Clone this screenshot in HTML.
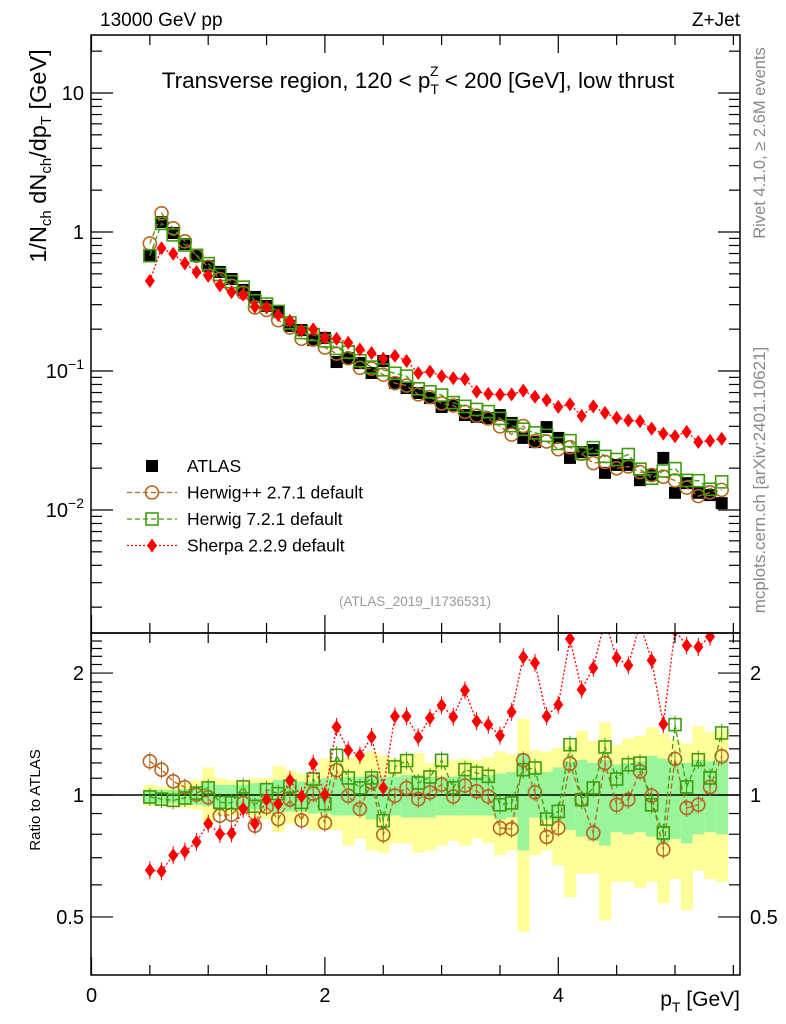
<!DOCTYPE html>
<html><head><meta charset="utf-8"><style>
html,body{margin:0;padding:0;background:#fff;}
svg{display:block;font-family:"Liberation Sans",Arial,sans-serif;}
</style></head><body>
<svg id="chart" width="786" height="1024" viewBox="0 0 786 1024" xmlns="http://www.w3.org/2000/svg">
<defs>
<clipPath id="clipMain"><rect x="91" y="35" width="649" height="598"/></clipPath>
<clipPath id="clipRatio"><rect x="91" y="633" width="649" height="342"/></clipPath>
</defs>
<g id="bands" clip-path="url(#clipRatio)"></g>
<g id="ratioMarks" clip-path="url(#clipRatio)"></g>
<g id="mainMarks" clip-path="url(#clipMain)"></g>
<g id="axes"></g>
<text x="100" y="26" font-size="19">13000 GeV pp</text>
<text x="740" y="26" font-size="19" text-anchor="end">Z+Jet</text>
<text x="418" y="88" font-size="22.5" text-anchor="middle">Transverse region, 120 &lt; p<tspan font-size="14" dy="6">T</tspan><tspan font-size="14" dx="-9" dy="-18">Z</tspan><tspan dy="12"> &lt; 200 [GeV], low thrust</tspan></text>
<text transform="translate(46,156) rotate(-90)" font-size="23.5" text-anchor="middle">1/N<tspan font-size="15" dy="5">ch</tspan><tspan dy="-5"> dN</tspan><tspan font-size="15" dy="5">ch</tspan><tspan dy="-5">/dp</tspan><tspan font-size="15" dy="5">T</tspan><tspan dy="-5"> [GeV]</tspan></text>
<text transform="translate(40,800) rotate(-90)" font-size="15" text-anchor="middle">Ratio to ATLAS</text>
<text transform="translate(765,143) rotate(-90)" font-size="16.5" fill="#888" text-anchor="middle">Rivet 4.1.0, ≥ 2.6M events</text>
<text transform="translate(765,480) rotate(-90)" font-size="17" fill="#888" text-anchor="middle">mcplots.cern.ch [arXiv:2401.10621]</text>
<text x="415" y="606" font-size="13.5" fill="#999" text-anchor="middle">(ATLAS_2019_I1736531)</text>
<text x="740" y="1006" font-size="21" text-anchor="end">p<tspan font-size="14" dy="6">T</tspan><tspan dy="-6"> [GeV]</tspan></text>
<g id="legend"></g>
</svg>
<script>
const xs=[0.5,0.6,0.7,0.8,0.9,1.0,1.1,1.2,1.3,1.4,1.5,1.6,1.7,1.8,1.9,2.0,2.1,2.2,2.3,2.4,2.5,2.6,2.7,2.8,2.9,3.0,3.1,3.2,3.3,3.4,3.5,3.6,3.7,3.8,3.9,4.0,4.1,4.2,4.3,4.4,4.5,4.6,4.7,4.8,4.9,5.0,5.1,5.2,5.3,5.4];
const atlas=[0.683,1.18,0.983,0.820,0.672,0.569,0.516,0.459,0.383,0.341,0.294,0.266,0.211,0.197,0.167,0.173,0.116,0.124,0.114,0.0968,0.118,0.0821,0.0755,0.0695,0.0639,0.0551,0.0569,0.0482,0.0467,0.0459,0.0482,0.0423,0.0330,0.0308,0.0395,0.0330,0.0237,0.0261,0.0270,0.0185,0.0211,0.0211,0.0164,0.0179,0.0237,0.0133,0.0156,0.0133,0.0128,0.0112];
const ratioHpp=[1.211,1.155,1.081,1.045,1.002,0.987,0.889,0.894,0.956,0.840,0.934,0.872,0.974,0.866,1.008,0.853,1.151,0.996,0.924,1.075,0.798,0.996,1.041,0.977,1.015,1.061,0.992,1.055,1.021,0.992,0.829,0.824,1.218,1.015,0.788,0.829,1.195,0.974,0.806,1.199,0.946,0.974,1.144,0.996,0.733,1.227,0.929,0.946,1.047,1.246];
const ratioH7=[0.989,0.977,0.970,0.983,1.011,1.041,0.959,0.956,1.047,0.938,1.031,1.008,1.051,0.959,1.095,0.952,1.253,1.102,1.041,1.102,0.864,1.173,1.216,1.071,1.108,1.218,1.041,1.155,1.133,1.112,0.946,0.956,1.155,1.166,0.872,0.911,1.331,0.974,1.041,1.314,1.095,1.188,1.199,0.946,0.806,1.492,1.047,1.222,1.102,1.423];
const ratioSherpa=[0.652,0.648,0.710,0.725,0.766,0.850,0.801,0.804,0.925,0.850,0.974,0.950,1.087,0.992,1.195,1.002,1.472,1.289,1.253,1.391,1.041,1.564,1.564,1.388,1.549,1.665,1.559,1.813,1.521,1.492,1.402,1.604,2.19,2.12,1.564,1.671,2.43,1.821,2.06,2.7,2.18,2.09,2.65,2.15,1.496,2.55,2.34,2.32,2.46,2.9];
const bandYellowUp=[1.06,1.05,1.05,1.07,1.09,1.17,1.10,1.09,1.09,1.10,1.10,1.18,1.15,1.13,1.13,1.23,1.22,1.24,1.25,1.28,1.25,1.23,1.26,1.27,1.20,1.23,1.22,1.23,1.22,1.24,1.28,1.26,1.54,1.29,1.28,1.31,1.36,1.44,1.36,1.51,1.33,1.38,1.40,1.47,1.42,1.37,1.34,1.48,1.43,1.45];
const bandYellowDn=[0.94,0.94,0.94,0.93,0.92,0.86,0.89,0.89,0.90,0.88,0.87,0.81,0.85,0.85,0.82,0.82,0.82,0.75,0.78,0.73,0.72,0.76,0.76,0.72,0.73,0.75,0.77,0.75,0.78,0.76,0.71,0.73,0.46,0.71,0.73,0.67,0.56,0.64,0.64,0.49,0.61,0.61,0.59,0.61,0.54,0.62,0.52,0.65,0.62,0.61];
const bandGreenUp=[1.03,1.03,1.03,1.035,1.04,1.07,1.06,1.06,1.06,1.07,1.07,1.09,1.08,1.08,1.08,1.10,1.10,1.11,1.11,1.13,1.11,1.11,1.12,1.12,1.11,1.11,1.11,1.11,1.11,1.12,1.13,1.14,1.27,1.14,1.14,1.17,1.21,1.22,1.20,1.22,1.19,1.20,1.21,1.25,1.23,1.20,1.20,1.22,1.21,1.22];
const bandGreenDn=[0.95,0.955,0.955,0.95,0.945,0.94,0.93,0.93,0.93,0.92,0.92,0.90,0.91,0.91,0.90,0.90,0.89,0.89,0.89,0.87,0.88,0.89,0.88,0.88,0.88,0.89,0.89,0.89,0.89,0.89,0.87,0.88,0.73,0.88,0.87,0.86,0.82,0.79,0.77,0.75,0.81,0.80,0.81,0.79,0.76,0.78,0.76,0.80,0.81,0.80];
const xTicksMajor=[0,2,4];
const mainTickVals=[0.01,0.1,1,10];
const mainTickLabels=["10-2","10-1","1","10"];
const ratioTickVals=[0.5,1,2];
const ratioTickLabels=["0.5","1","2"];

const NS="http://www.w3.org/2000/svg";
const X0=91,X1=740,YT=35,YM=633,YB=975;
function px(x){return 91.5+x*116.7;}
function pyMain(v){return 232-139*Math.log10(v);}
function pyRatio(r){return 795-405*Math.log10(r);}
function mk(tag,attrs,parent){const e=document.createElementNS(NS,tag);for(const k in attrs)e.setAttribute(k,attrs[k]);parent.appendChild(e);return e;}
const axes=document.getElementById('axes');
const bands=document.getElementById('bands');
const rm=document.getElementById('ratioMarks');
const mm=document.getElementById('mainMarks');
const BROWN="#b5651d",GREEN="#3f9c0c",RED="#ff0000";

for(let i=0;i<xs.length;i++){
  const l=px(xs[i]-0.05),w=116.7*0.1+0.5;
  let r=mk('rect',{x:l,y:pyRatio(bandYellowUp[i]),width:w,height:pyRatio(bandYellowDn[i])-pyRatio(bandYellowUp[i]),fill:"#ffff99"},bands);
  
  
  let g=mk('rect',{x:l,y:pyRatio(bandGreenUp[i]),width:w,height:pyRatio(bandGreenDn[i])-pyRatio(bandGreenUp[i]),fill:"#99f599"},bands);
  
  
}
let ref=mk('line',{x1:X0,x2:X1,y1:pyRatio(1),y2:pyRatio(1),stroke:"#000","stroke-width":1.5},rm);



function marker(type,cx,cy,parent,name){
  let e;
  if(type==='sq') e=mk('rect',{x:cx-6,y:cy-6,width:12,height:12,fill:"#000"},parent);
  else if(type==='osq') e=mk('rect',{x:cx-6,y:cy-6,width:12,height:12,fill:"none",stroke:GREEN,"stroke-width":1.6},parent);
  else if(type==='circ') e=mk('circle',{cx:cx,cy:cy,r:6.5,fill:"none",stroke:BROWN,"stroke-width":1.6},parent);
  else e=mk('polygon',{points:`${cx},${cy-7} ${cx+5},${cy} ${cx},${cy+7} ${cx-5},${cy}`,fill:RED},parent);
  
  
}
function series(vals,fy,type,color,dash,parent,name,err){
  const pts=vals.map((v,i)=>px(xs[i])+","+fy(v,i)).join(" ");
  const pl=mk('polyline',{points:pts,fill:"none",stroke:color,"stroke-width":1.3,"stroke-dasharray":dash},parent);
  
  
  vals.forEach((v,i)=>{
    const cx=px(xs[i]),cy=fy(v,i);
    if(err){const eb=mk('line',{x1:cx,x2:cx,y1:cy-9,y2:cy+9,stroke:color,"stroke-width":1},parent);
      
      }
    marker(type,cx,cy,parent,name+'-point');
  });
}
series(ratioHpp,v=>pyRatio(v),'circ',BROWN,"5,3",rm,'herwigpp-ratio',true);
series(ratioH7,v=>pyRatio(v),'osq',GREEN,"5,3",rm,'herwig7-ratio',true);
series(ratioSherpa,v=>pyRatio(v),'dia',RED,"2,2",rm,'sherpa-ratio',true);
atlas.forEach((v,i)=>marker('sq',px(xs[i]),pyMain(v),mm,'atlas-point'));
series(ratioHpp,(r,i)=>pyMain(r*atlas[i]),'circ',BROWN,"5,3",mm,'herwigpp',false);
series(ratioH7,(r,i)=>pyMain(r*atlas[i]),'osq',GREEN,"5,3",mm,'herwig7',false);
series(ratioSherpa,(r,i)=>pyMain(r*atlas[i]),'dia',RED,"2,2",mm,'sherpa',false);

[[YT,YM],[YM,YB]].forEach(([a,b])=>{const f=mk('rect',{x:X0,y:a,width:X1-X0,height:b-a,fill:"none",stroke:"#000","stroke-width":1.5},axes);
 
 });
function tl(x1,y1,x2,y2){mk('line',{x1,y1,x2,y2,stroke:"#000","stroke-width":1.2},axes);}
for(let k=0;k<=11;k++){const x=k*0.5,p=px(x);if(p>X1)break;const L=(k%4===0)?18:10;
  tl(p,YT,p,YT+L);tl(p,YM,p,YM-L);tl(p,YM,p,YM+L);tl(p,YB,p,YB-L);}
xTicksMajor.forEach(x=>{const t=mk('text',{x:px(x),y:1002,"font-size":20,"text-anchor":"middle"},axes);t.textContent=x;
 
 });
for(let d=-3;d<=1;d++){for(let m=1;m<=9;m++){const v=m*Math.pow(10,d);const y=pyMain(v);if(y<YT||y>YM)continue;const L=m===1?22:11;tl(X0,y,X0+L,y);tl(X1,y,X1-L,y);}}
mainTickVals.forEach((v,i)=>{const lab=mainTickLabels[i];const y=pyMain(v)+7;
  const t=mk('text',{x:84,y:y,"font-size":20,"text-anchor":"end"},axes);
  if(lab.indexOf('-')>0){t.textContent="10";const s=mk('tspan',{"font-size":14,dy:-9},t);s.textContent=lab.slice(2).replace('-','−');}
  else t.textContent=lab;
  
  });
const rmin=[0.5,0.6,0.7,0.8,0.9,1,1.1,1.2,1.3,1.4,1.5,1.6,1.7,1.8,1.9,2,2.1,2.2,2.3,2.4];
rmin.forEach(r=>{const y=pyRatio(r);const L=(ratioTickVals.indexOf(r)>=0)?22:11;tl(X0,y,X0+L,y);tl(X1,y,X1-L,y);});
ratioTickVals.forEach((r,i)=>{const y=pyRatio(r)+7;
  const t=mk('text',{x:84,y:y,"font-size":20,"text-anchor":"end"},axes);t.textContent=ratioTickLabels[i];
  
  
  const t2=mk('text',{x:750,y:y,"font-size":20},axes);t2.textContent=ratioTickLabels[i];
  
  });
const leg=document.getElementById('legend');
const entries=[["ATLAS",'sq',null,null],["Herwig++ 2.7.1 default",'circ',BROWN,"5,3"],["Herwig 7.2.1 default",'osq',GREEN,"5,3"],["Sherpa 2.2.9 default",'dia',RED,"2,2"]];
entries.forEach((e,i)=>{const y=466+i*26.5;
  if(e[2]){const l=mk('line',{x1:127,x2:177,y1:y,y2:y,stroke:e[2],"stroke-width":1.3,"stroke-dasharray":e[3]},leg);
    
    }
  marker(e[1],152,y,leg,'legend-marker');
  const t=mk('text',{x:187,y:y+6,"font-size":17.5},leg);t.textContent=e[0];
  
  });
</script>
</body></html>
